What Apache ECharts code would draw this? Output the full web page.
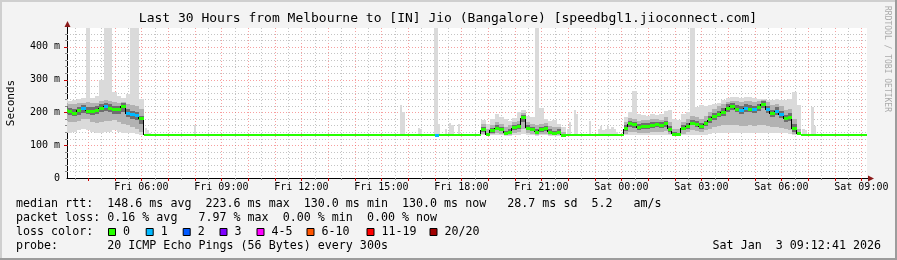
<!DOCTYPE html>
<html><head><meta charset="utf-8">
<script src="https://cdn.jsdelivr.net/npm/echarts@6/dist/echarts.min.js"></script>
<style>html,body{margin:0;padding:0;background:#f3f3f3}#c{width:897px;height:260px}</style>
</head><body><div id="c"></div>
<script>
// ---------------- data ----------------
const titleText = "Last 30 Hours from Melbourne to [IN] Jio (Bangalore) [speedbgl1.jioconnect.com]";
const rangeStart = "Fri 03:12:41";
const rangeEnd = "Sat 09:12:41";
const xTickLabels = ["Fri 06:00","Fri 09:00","Fri 12:00","Fri 15:00","Fri 18:00","Fri 21:00","Sat 00:00","Sat 03:00","Sat 06:00","Sat 09:00"];
const yTickValues = [0,100,200,300,400];
const yTickLabels = ["0","100 m","200 m","300 m","400 m"];
const yMax = 457;
const binMinutes = 10;

// region 1 (10-min bins)
const r1Start = "Fri 03:10";
const r1Median  = [207,204,198,206,211,203,204,207,213,219,213,208,209,218,196,193,189,180];
const r1Loss    = [0,0,0,0,1,0,0,0,0,1,0,0,0,0,1,1,1,0];
const r1OuterLo = [140,138,140,145,148,145,140,138,137,140,140,145,140,137,137,137,135,132];
const r1OuterHi = [240,236,238,240,245,457,245,250,300,457,457,262,250,245,255,457,457,242];
const r1MidLo   = [175,172,170,175,180,180,172,168,170,175,175,178,170,165,160,155,150,140];
const r1MidHi   = [228,226,225,228,230,232,228,230,235,238,235,232,230,232,225,222,218,210];
const r1InnerLo = [195,192,188,192,198,194,192,194,200,205,202,196,196,200,185,180,176,165];
const r1InnerHi = [218,214,210,215,222,215,216,220,225,230,226,220,220,228,210,205,200,190];

// region 2
const r2Start = "Fri 18:50";
const r2Median  = [147,132,145,152,148,137,140,153,157,183,152,148,140,147,150,140,137,140,130];
const r2Loss    = [0,0,0,0,0,0,0,0,0,0,0,0,0,0,0,0,0,0,0];
const r2OuterLo = [130,129,130,131,130,129,129,131,131,133,131,130,129,130,130,129,129,129,129];
const r2OuterHi = [178,165,180,195,185,180,175,182,200,207,190,185,457,213,180,175,178,165,155];
const r2MidLo   = [135,130,133,138,135,131,132,138,140,150,138,135,132,135,135,132,131,132,130];
const r2MidHi   = [165,150,162,170,165,155,160,170,175,198,172,165,160,165,168,158,155,155,140];
const r2InnerLo = [140,131,138,145,142,134,135,146,150,170,145,142,135,140,143,135,133,135,130];
const r2InnerHi = [155,138,152,160,155,143,148,160,165,192,160,155,148,155,158,148,143,148,133];

// region 3
const r3Start = "Sat 00:10";
const r3Median  = [150,165,163,153,157,157,160,163,160,165,148,134,132,152,157,167,163,156,165,178,186,193,200,212,218,210,205,212,210,208,214,224,208,195,203,193,180,185,150,135];
const r3Loss    = [0,0,0,0,0,0,0,0,0,0,0,0,0,0,0,0,0,0,0,0,0,0,0,0,0,0,1,1,0,1,0,0,1,0,1,1,0,0,0,0];
const r3OuterLo = [131,132,132,132,132,131,131,131,131,132,131,130,130,131,131,132,132,132,132,134,136,137,137,137,137,137,137,137,137,137,137,137,137,137,137,137,136,135,132,130];
const r3OuterHi = [185,200,266,195,192,190,195,192,195,205,207,180,178,195,200,457,215,222,220,222,225,230,238,245,247,247,245,247,248,245,240,240,238,238,240,238,238,240,263,222];
const r3MidLo   = [135,140,140,138,138,138,140,140,140,142,135,131,131,135,140,145,142,140,145,150,155,158,160,160,160,160,158,158,160,158,160,162,158,155,155,152,148,145,135,131];
const r3MidHi   = [170,182,180,175,178,178,180,180,178,185,170,150,150,172,180,188,185,180,188,200,210,218,225,232,236,234,232,234,234,232,236,238,232,222,225,218,208,210,180,148];
const r3InnerLo = [142,155,153,145,150,150,152,155,152,155,140,132,131,145,150,160,155,150,157,168,178,185,190,200,206,200,196,200,200,198,204,212,198,185,192,183,170,173,140,132];
const r3InnerHi = [160,175,172,163,167,167,170,172,170,175,158,140,138,162,167,178,173,168,175,190,198,205,212,224,228,222,218,224,222,220,226,234,220,208,215,205,192,198,165,140];

// flat median stretches and single loss blips
const flatValue = 130;
const flatSegments = [["Fri 06:05","Fri 18:45"],["Fri 21:55","Sat 00:05"],["Sat 06:45","Sat 09:12:41"]];
const medianBlips = [["Fri 17:05",130,1]];
// isolated smoke spikes in the quiet stretches: [time, lo, hi]
const smokeSpikes = [
  ["Fri 06:10",130,152],["Fri 06:15",130,145],["Fri 06:20",130,138],
  ["Fri 08:00",130,162],
  ["Fri 15:45",130,222],["Fri 15:50",130,200],
  ["Fri 16:25",130,153],["Fri 16:30",130,150],
  ["Fri 17:00",130,457],["Fri 17:05",130,457],["Fri 17:10",130,165],
  ["Fri 17:25",130,150],["Fri 17:35",130,168],["Fri 17:40",130,160],["Fri 17:55",130,165],
  ["Fri 22:00",130,150],["Fri 22:05",130,172],["Fri 22:15",130,208],["Fri 22:20",130,195],
  ["Fri 22:50",130,175],
  ["Fri 23:10",130,150],["Fri 23:15",130,157],["Fri 23:20",130,145],["Fri 23:25",130,150],
  ["Fri 23:30",130,157],["Fri 23:35",130,148],["Fri 23:40",130,155],["Fri 23:45",130,150],["Fri 23:50",130,140],
  ["Sat 06:50",130,150],["Sat 06:55",130,145],["Sat 07:10",130,217],["Sat 07:15",130,157]
];
const spikeMinutes = 5;

const lossColors = ["#26ff00","#00b8ff","#0059ff","#7e00ff","#ff00ff","#ff5500","#ff0000","#a10000"];
const lossLabels = ["0","1","2","3","4-5","6-10","11-19","20/20"];
const statLine1 = "median rtt:  148.6 ms avg  223.6 ms max  130.0 ms min  130.0 ms now   28.7 ms sd  5.2   am/s";
const statLine2 = "packet loss: 0.16 % avg   7.97 % max  0.00 % min  0.00 % now";
const statLine3 = "loss color:";
const statLine4 = "probe:       20 ICMP Echo Pings (56 Bytes) every 300s";
const stampText = "Sat Jan  3 09:12:41 2026";
const yAxisName = "Seconds";
const watermark = "RRDTOOL / TOBI OETIKER";

// ---------------- build ----------------
const MONO = '"DejaVu Sans Mono", monospace';
function hrs(s){const p=s.split(' ');const q=p[1].split(':').map(Number);return (p[0]==='Sat'?24:0)+q[0]+q[1]/60+(q[2]||0)/3600;}
const X0 = hrs(rangeStart), X1 = hrs(rangeEnd);
const half = binMinutes/2/60;

function bandItems(start, lo, hi){const t0=hrs(start);return lo.map((v,i)=>{const t=t0+i*binMinutes/60;return [t-half,t+half,v,hi[i]];});}
function medItems(start, med, loss){const t0=hrs(start);return med.map((v,i)=>{const t=t0+i*binMinutes/60;return [t-half,t+half,v,loss[i]];});}

const outerBand = [].concat(bandItems(r1Start,r1OuterLo,r1OuterHi),bandItems(r2Start,r2OuterLo,r2OuterHi),bandItems(r3Start,r3OuterLo,r3OuterHi),
  smokeSpikes.map(s=>[hrs(s[0])-spikeMinutes/120,hrs(s[0])+spikeMinutes/120,s[1],s[2]]));
const midBand = [].concat(bandItems(r1Start,r1MidLo,r1MidHi),bandItems(r2Start,r2MidLo,r2MidHi),bandItems(r3Start,r3MidLo,r3MidHi));
const innerBand = [].concat(bandItems(r1Start,r1InnerLo,r1InnerHi),bandItems(r2Start,r2InnerLo,r2InnerHi),bandItems(r3Start,r3InnerLo,r3InnerHi));

let medianAll = [].concat(medItems(r1Start,r1Median,r1Loss),medItems(r2Start,r2Median,r2Loss),medItems(r3Start,r3Median,r3Loss),
  flatSegments.map(s=>[hrs(s[0]),hrs(s[1]),flatValue,0]));
medianAll.sort((a,b)=>a[0]-b[0]);
const blips = medianBlips.map(b=>[hrs(b[0])-half,hrs(b[0])+half,b[1],b[2]]);
const connectors = [];
for(let i=0;i+1<medianAll.length;i++){
  const a=medianAll[i], b=medianAll[i+1];
  if(Math.abs(a[1]-b[0])<1e-6 && a[2]!==b[2]) connectors.push([a[1],a[2],b[2]]);
}

const vGrid=[]; for(let t=Math.ceil(X0*2)/2;t<=X1+1e-9;t+=0.5){vGrid.push([t, Math.abs(t-Math.round(t))<1e-9?1:0]);}
const hGrid=[]; for(let v=20;v<yMax;v+=20){hGrid.push([v, v%100===0?1:0]);}
const MAJOR='rgba(240,80,80,0.55)', MINOR='#c4c4c4';

function clipRect(r, cs){return echarts.graphic.clipRectByRect(r,{x:cs.x,y:cs.y,width:cs.width,height:cs.height});}
function bandRender(color){
  return function(params, api){
    const a=api.coord([api.value(0), api.value(3)]), b=api.coord([api.value(1), api.value(2)]);
    const x1=Math.round(a[0]), x2=Math.round(b[0]), y1=Math.round(a[1]), y2=Math.round(b[1]);
    const shape=clipRect({x:x1,y:y1,width:x2-x1,height:y2-y1}, params.coordSys);
    if(!shape) return;
    return {type:'rect', shape, style:{fill:color}};
  };
}
function medRender(params, api){
  const a=api.coord([api.value(0), api.value(2)]), b=api.coord([api.value(1), api.value(2)]);
  const long=(api.value(1)-api.value(0))>binMinutes/60+1e-6;
  const h=long?2:3;
  const x1=Math.round(a[0]), x2=Math.round(b[0]), y=Math.round(a[1]-h/2);
  const shape=clipRect({x:x1,y:y,width:x2-x1,height:h}, params.coordSys);
  if(!shape) return;
  return {type:'rect', shape, style:{fill:lossColors[api.value(3)]}};
}
function connRender(params, api){
  const a=api.coord([api.value(0), api.value(1)]), b=api.coord([api.value(0), api.value(2)]);
  const x=Math.round(a[0])-0.5;
  return {type:'line', shape:{x1:x,y1:Math.round(a[1]),x2:x,y2:Math.round(b[1])}, style:{stroke:'#000',lineWidth:1}};
}
function vGridRender(params, api){
  const cs=params.coordSys, major=api.value(1);
  const p=api.coord([api.value(0),0]); const x=Math.round(p[0])+0.5;
  const bottom=cs.y+cs.height;
  return {type:'group', children:[
    {type:'line', shape:{x1:x,y1:cs.y,x2:x,y2:bottom}, style:{stroke:major?MAJOR:MINOR,lineWidth:1,lineDash:[1,2]}},
    {type:'line', shape:{x1:x,y1:bottom,x2:x,y2:bottom+(major?3:2)}, style:{stroke:major?'#c00':'#888',lineWidth:1}}
  ]};
}
function hGridRender(params, api){
  const cs=params.coordSys, major=api.value(1);
  const p=api.coord([X0,api.value(0)]); const y=Math.round(p[1])+0.5;
  return {type:'group', children:[
    {type:'line', shape:{x1:cs.x,y1:y,x2:cs.x+cs.width,y2:y}, style:{stroke:major?MAJOR:MINOR,lineWidth:1,lineDash:[1,2]}},
    {type:'line', shape:{x1:cs.x-(major?3:2),y1:y,x2:cs.x,y2:y}, style:{stroke:major?'#c00':'#888',lineWidth:1}}
  ]};
}

const GL=67, GT=28, GW=800, GB=178;
const legendBoxX = [108,145.7,182.7,219.5,256.5,306.5,366.5,429.5];
const gfx = [
  {type:'rect', shape:{x:0,y:0,width:897,height:2}, style:{fill:'#cfcfcf'}, silent:true},
  {type:'rect', shape:{x:0,y:0,width:2,height:260}, style:{fill:'#cfcfcf'}, silent:true},
  {type:'rect', shape:{x:895,y:0,width:2,height:260}, style:{fill:'#9c9c9c'}, silent:true},
  {type:'rect', shape:{x:0,y:258,width:897,height:2}, style:{fill:'#9c9c9c'}, silent:true},
  {type:'text', x:448, y:18.5, style:{text:titleText, font:'13px '+MONO, fill:'#000', align:'center', verticalAlign:'middle', textAlign:'center', textVerticalAlign:'middle'}},
  {type:'text', x:11, y:103, rotation:Math.PI/2, style:{text:yAxisName, font:'11px '+MONO, fill:'#000', align:'center', verticalAlign:'middle', textAlign:'center', textVerticalAlign:'middle'}},
  {type:'text', x:887, y:59, rotation:-Math.PI/2, style:{text:watermark, font:'8px '+MONO, fill:'#aaaaaa', align:'center', verticalAlign:'middle', textAlign:'center', textVerticalAlign:'middle'}},
  // axis extensions & arrows
  {type:'line', shape:{x1:GL+0.5,y1:GT,x2:GL+0.5,y2:GT-3}, style:{stroke:'#000'}},
  {type:'polygon', shape:{points:[[GL-2.5,GT-1],[GL+3.5,GT-1],[GL+0.5,GT-7]]}, style:{fill:'#8b1a1a'}},
  {type:'line', shape:{x1:GL+GW,y1:GB+0.5,x2:GL+GW+2,y2:GB+0.5}, style:{stroke:'#000'}},
  {type:'polygon', shape:{points:[[GL+GW+1,GB-2.5],[GL+GW+1,GB+3.5],[GL+GW+7,GB+0.5]]}, style:{fill:'#8b1a1a'}},
  {type:'text', x:16, y:204, style:{text:statLine1, font:'11.66px '+MONO, fill:'#000', verticalAlign:'middle', textVerticalAlign:'middle'}},
  {type:'text', x:16, y:218, style:{text:statLine2, font:'11.66px '+MONO, fill:'#000', verticalAlign:'middle', textVerticalAlign:'middle'}},
  {type:'text', x:16, y:232, style:{text:statLine3, font:'11.66px '+MONO, fill:'#000', verticalAlign:'middle', textVerticalAlign:'middle'}},
  {type:'text', x:16, y:246, style:{text:statLine4, font:'11.66px '+MONO, fill:'#000', verticalAlign:'middle', textVerticalAlign:'middle'}},
  {type:'text', x:881, y:246, style:{text:stampText, font:'11.66px '+MONO, fill:'#000', align:'right', textAlign:'right', verticalAlign:'middle', textVerticalAlign:'middle'}}
];
lossLabels.forEach((lab,i)=>{
  gfx.push({type:'rect', shape:{x:legendBoxX[i]+0.5,y:228.5,width:7,height:7}, style:{fill:lossColors[i], stroke:'#000', lineWidth:1}});
  gfx.push({type:'text', x:legendBoxX[i]+15, y:232, style:{text:lab, font:'11.66px '+MONO, fill:'#000', verticalAlign:'middle', textVerticalAlign:'middle'}});
});

const chart = echarts.init(document.getElementById('c'), null, {renderer:'canvas', width:897, height:260});
chart.setOption({
  animation:false,
  backgroundColor:'#f3f3f3',
  grid:{left:GL, top:GT, width:GW, height:GB-GT, show:true, backgroundColor:'#ffffff', borderWidth:0},
  xAxis:{type:'value', min:X0, max:X1, splitLine:{show:false}, axisTick:{show:false},
    axisLine:{show:true, onZero:false, lineStyle:{color:'#000', width:1}},
    axisLabel:{customValues:xTickLabels.map(hrs), fontFamily:'DejaVu Sans Mono', fontSize:10, color:'#000', margin:4,
      formatter:v=>{const i=xTickLabels.findIndex(l=>Math.abs(hrs(l)-v)<1e-6);return i>=0?xTickLabels[i]:'';}}},
  yAxis:{type:'value', min:0, max:yMax, splitLine:{show:false}, axisTick:{show:false},
    axisLine:{show:true, onZero:false, lineStyle:{color:'#000', width:1}},
    axisLabel:{customValues:yTickValues, fontFamily:'DejaVu Sans Mono', fontSize:10, color:'#000', margin:7,
      formatter:v=>{const i=yTickValues.indexOf(v);return i>=0?yTickLabels[i]:'';}}},
  graphic:gfx,
  series:[
    {type:'custom', z:1, silent:true, data:vGrid, renderItem:vGridRender},
    {type:'custom', z:1, silent:true, data:hGrid, renderItem:hGridRender},
    {type:'custom', z:2, silent:true, data:outerBand, renderItem:bandRender('#dadada')},
    {type:'custom', z:3, silent:true, data:midBand, renderItem:bandRender('#b2b2b2')},
    {type:'custom', z:4, silent:true, data:innerBand, renderItem:bandRender('#6e6e6e')},
    {type:'custom', z:5, silent:true, data:connectors, renderItem:connRender},
    {type:'custom', z:6, silent:true, data:medianAll.concat(blips), renderItem:medRender}
  ]
});
</script></body></html>
